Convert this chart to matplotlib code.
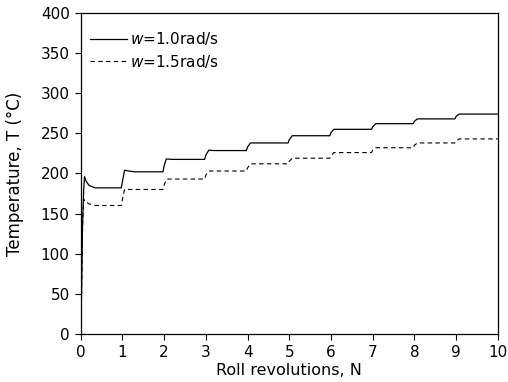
import matplotlib
matplotlib.use("Agg")
import matplotlib.pyplot as plt

plt.rcParams['font.family'] = ['DejaVu Sans']

# Series 1: w = 1.0 rad/s (solid)
n1 = [0, 0.015, 0.04, 0.07, 0.09, 0.13, 0.2, 0.35, 0.97, 1.0, 1.05, 1.15, 1.3, 1.97, 2.0, 2.05,
      2.2, 2.97, 3.0, 3.07, 3.2, 3.97, 4.0, 4.07, 4.97, 5.0, 5.07, 5.97, 6.0, 6.07,
      6.97, 7.0, 7.07, 7.97, 8.0, 8.07, 8.97, 9.0, 9.07, 10]
t1 = [0, 40, 130, 180, 196, 190, 185, 182, 182, 190, 204, 203, 202, 202, 210, 218,
      217.5, 217.5, 223, 229, 228.5, 228.5, 233, 238, 238, 242, 247, 247, 251, 255,
      255, 258, 262, 262, 265, 268, 268, 271, 274, 274]

# Series 2: w = 1.5 rad/s (dashed)
n2 = [0, 0.02, 0.045, 0.07, 0.1, 0.2, 0.35, 0.97, 1.0, 1.05, 1.97, 2.0, 2.06, 2.97, 3.0, 3.07,
      3.97, 4.0, 4.07, 4.97, 5.0, 5.07, 5.97, 6.0, 6.07, 6.97, 7.0, 7.07, 7.97, 8.0,
      8.07, 8.97, 9.0, 9.07, 10]
t2 = [0, 50, 140, 168, 165, 162, 160, 160, 168, 180, 180, 186, 193, 193, 198, 203,
      203, 207, 212, 212, 215, 219, 219, 222, 226, 226, 229, 232, 232, 235,
      238, 238, 240, 243, 243]

labels = [r"$w$=1.0rad/s", r"$w$=1.5rad/s"]
xticks = list(range(0, 11))
yticks = list(range(0, 401, 50))

fig = plt.figure(figsize=(5.08, 3.82), dpi=100)
ax = fig.add_axes([0.159, 0.126, 0.821, 0.840])
ax.plot(n1, t1, color='black', lw=0.9, ls='-', label=labels[0])
ax.plot(n2, t2, color='black', lw=0.8, ls=(0, (4, 3)), label=labels[1])

ax.set_xlim(0, 10)
ax.set_ylim(0, 400)
ax.set_xticks(xticks)
ax.set_yticks(yticks)
ax.tick_params(direction='out', length=4, width=0.8, labelsize=11, colors='black', pad=4)
for s in ax.spines.values():
    s.set_linewidth(0.9)

ax.set_xlabel("Roll revolutions, N", fontsize=11.5, labelpad=2)
ax.set_ylabel("Temperature, T (°C)", fontsize=12, labelpad=12)

ax.legend(loc='upper left', frameon=False, fontsize=11, handlelength=2.4,
          handletextpad=0.2, borderaxespad=0.2, labelspacing=0.35,
          bbox_to_anchor=(0.0, 0.975))

fig.savefig("out.png", dpi=100)
